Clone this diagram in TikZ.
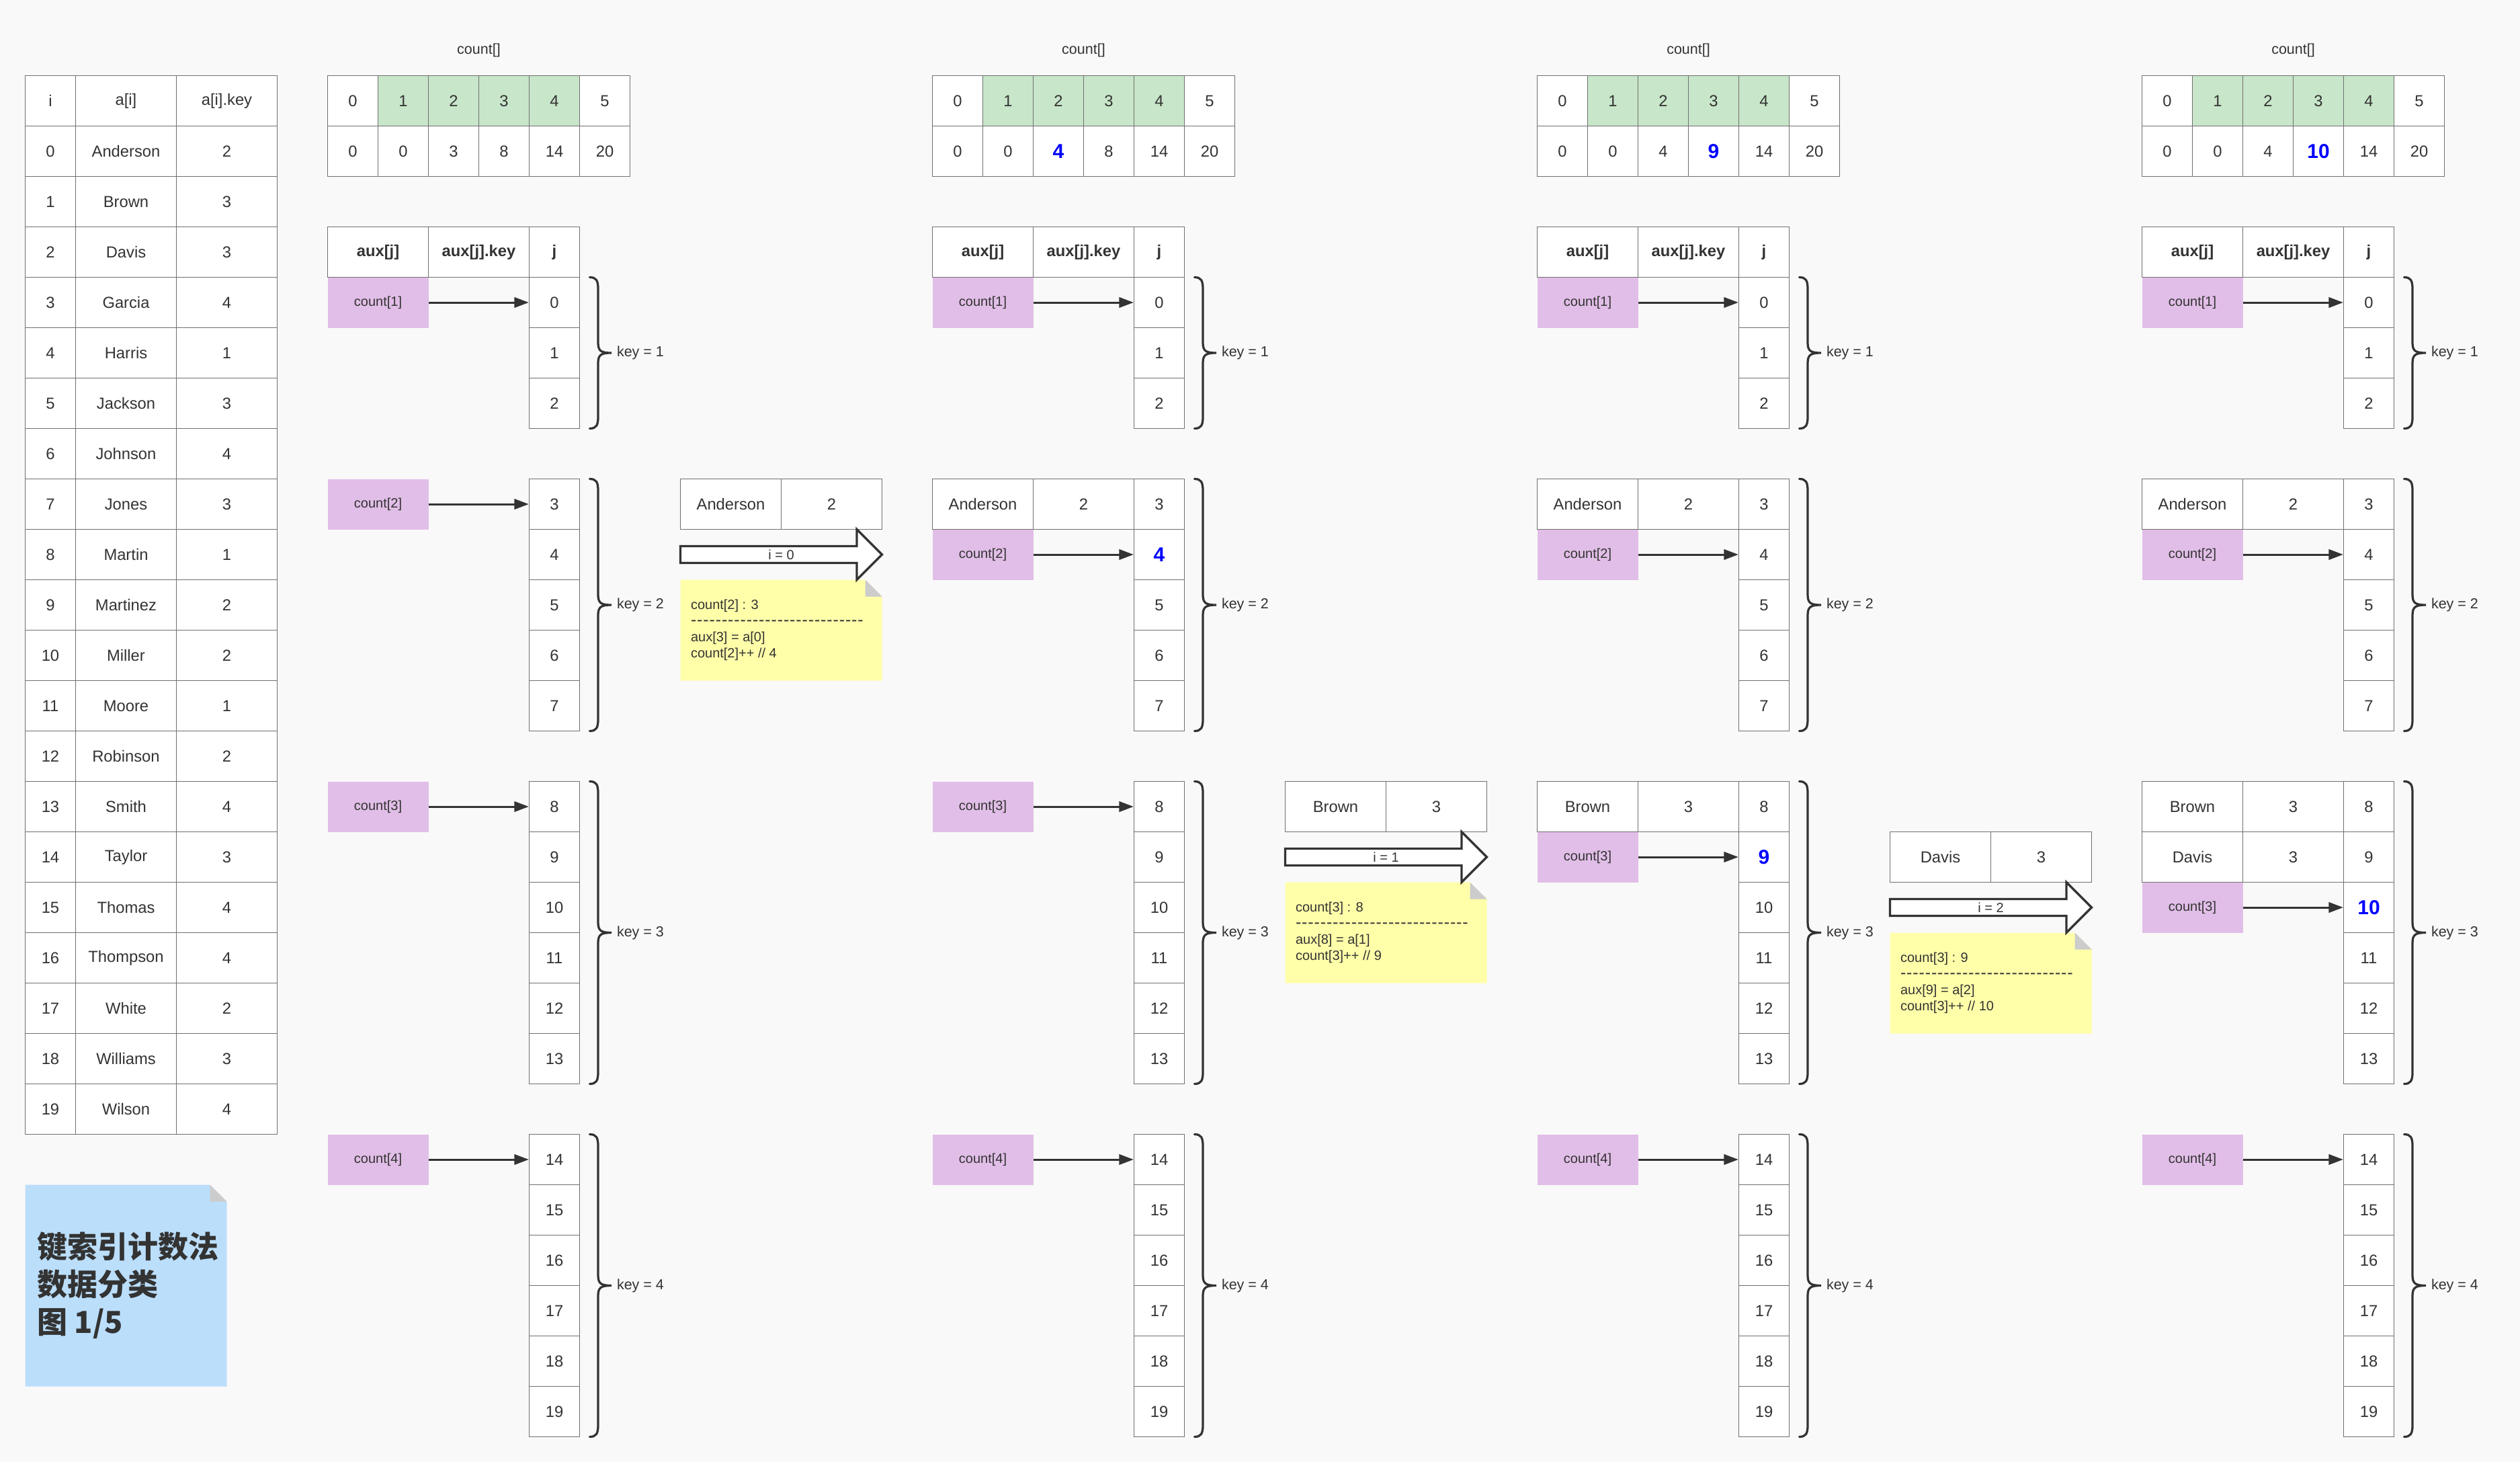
\documentclass[tikz,border=0pt]{standalone}
\usepackage{fontspec}
\setmainfont{Liberation Sans}
\newfontfamily\cjkfont{Noto Sans CJK SC}
\usetikzlibrary{arrows.meta}

\definecolor{bgc}{HTML}{F9F9F9}
\definecolor{txt}{HTML}{333333}
\definecolor{edgec}{HTML}{707070}
\definecolor{darkc}{HTML}{333333}
\definecolor{greenc}{HTML}{C8E6C9}
\definecolor{purc}{HTML}{E1BEE7}
\definecolor{yellowc}{HTML}{FFFFAA}
\definecolor{foldc}{HTML}{CCCCCC}
\definecolor{bluenote}{HTML}{BBDEFB}
\definecolor{hlblue}{HTML}{0000FF}

% highlighted (just updated) value
\newcommand{\hl}[1]{{\fontsize{12}{14}\selectfont\bfseries\color{hlblue}#1}}
% separator line inside the yellow notes
\newcommand{\dashrow}{{\fontsize{10}{9.6}\selectfont\foreach \n in {1,...,28}{-\kern0.35pt}}}

\tikzset{
  every node/.style={text=txt},
  cell/.style={draw=edgec, line width=0.5pt, fill=white, minimum height=30pt,
               inner sep=0pt, font=\fontsize{9.5}{11}\selectfont},
  w30/.style={minimum width=30pt},
  w60/.style={minimum width=60pt},
  hdr/.style={font=\fontsize{9.5}{11}\selectfont\bfseries},
  ptr/.style={fill=purc, draw=none, minimum width=60pt, minimum height=30pt,
              inner sep=0pt, font=\fontsize{8}{10}\selectfont},
  ar/.style={draw=darkc, line width=1.2pt, -{Triangle[length=8.6pt,width=6.1pt]}},
  brc/.style={draw=darkc, line width=1.3pt, line cap=round},
  small/.style={font=\fontsize{8}{9.6}\selectfont, inner sep=0pt},
  lbl/.style={font=\fontsize{8.6}{10}\selectfont, inner sep=0pt},
  barrow/.style={draw=darkc, fill=white, line width=1.3pt, line join=miter},
}

% curly brace right of a j-group, with its key label
% #1 name, #2 right edge of j column, #3 top, #4 bottom, #5 label
\newcommand{\keybrace}[5]{%
  \draw[brc] ({#2+6},#3) .. controls ({#2+10},#3) and ({#2+11},{#3+2}) .. ({#2+11},{#3+7})
    -- ({#2+11},{(#3+#4)/2-6})
    .. controls ({#2+11},{(#3+#4)/2-1}) and ({#2+13},{(#3+#4)/2}) .. ({#2+19},{(#3+#4)/2})
    .. controls ({#2+13},{(#3+#4)/2}) and ({#2+11},{(#3+#4)/2+1}) .. ({#2+11},{(#3+#4)/2+6})
    -- ({#2+11},{#4-7})
    .. controls ({#2+11},{#4-2}) and ({#2+10},#4) .. ({#2+6},#4);
  \node[lbl, anchor=west] (#1) at ({#2+22},{(#3+#4)/2}) {#5};
}

% count[] table, aux header, j column and braces of one stage
% #1 stage id, #2 x offset, #3 values of count[], #4 j shown highlighted
\newcommand{\stagegrid}[4]{%
  \node[font=\fontsize{8.6}{10}\selectfont] (cl#1) at ({#2+285},30) {count[]};
  \foreach \k in {0,...,5} {
    \ifnum\k>0 \ifnum\k<5 \def\cf{greenc}\else\def\cf{white}\fi\else\def\cf{white}\fi
    \node[cell,w30,fill=\cf] (ck#1-\k) at ({#2+210+30*\k},60) {\k};
  }
  \foreach \v [count=\k from 0] in {#3} {
    \node[cell,w30] (cv#1-\k) at ({#2+210+30*\k},90) {\v};
  }
  \node[cell,w60,hdr] (ha#1) at ({#2+225},150) {aux[j]};
  \node[cell,w60,hdr] (hk#1) at ({#2+285},150) {aux[j].key};
  \node[cell,w30,hdr] (hj#1) at ({#2+330},150) {j};
  \foreach \j in {0,...,19} {
    \pgfmathtruncatemacro\g{(\j>2)+(\j>7)+(\j>13)}
    \ifnum\j=#4 \def\t{\hl{\j}}\else\def\t{\j}\fi
    \node[cell,w30] (j#1-\j) at ({#2+330},{180+30*\j+30*\g}) {\t};
  }
  \keybrace{kb#1-1}{#2+345}{165}{255}{key = 1}
  \keybrace{kb#1-2}{#2+345}{285}{435}{key = 2}
  \keybrace{kb#1-3}{#2+345}{465}{645}{key = 3}
  \keybrace{kb#1-4}{#2+345}{675}{855}{key = 4}
}

% record already placed in aux[]: #1 name, #2 x offset, #3 y, #4 a[i], #5 key
\newcommand{\auxrow}[5]{%
  \node[cell,w60] (#1-n) at ({#2+225},#3) {#4};
  \node[cell,w60] (#1-k) at ({#2+285},#3) {#5};
}

% count[k] pointer: #1 name, #2 x offset, #3 y, #4 text, #5 target cell
\newcommand{\ptrto}[5]{%
  \node[ptr] (#1) at ({#2+225},#3) {#4};
  \draw[ar] (#1.east) -- (#5.west);
}

% step between stages: record, block arrow and note
% #1 id, #2 left x, #3 top y, #4 a[i], #5 key, #6 arrow text, #7-#9 note lines
\newcommand{\transit}[9]{%
  \node[cell,w60] (t#1-n) at ({#2+30},{#3+15}) {#4};
  \node[cell,w60] (t#1-k) at ({#2+90},{#3+15}) {#5};
  \fill[yellowc] (#2,{#3+60}) -- ({#2+110},{#3+60}) -- ({#2+120},{#3+70})
    -- ({#2+120},{#3+120}) -- (#2,{#3+120}) -- cycle;
  \fill[foldc] ({#2+110},{#3+60}) -- ({#2+110},{#3+70}) -- ({#2+120},{#3+70}) -- cycle;
  \node[small, anchor=west, align=left] (t#1-note) at ({#2+6},{#3+90}) {#7\\\dashrow\\#8\\#9};
  \draw[barrow] (#2,{#3+40}) -- ({#2+105},{#3+40}) -- ({#2+105},{#3+30})
    -- ({#2+120},{#3+45}) -- ({#2+105},{#3+60}) -- ({#2+105},{#3+50})
    -- (#2,{#3+50}) -- cycle;
  \node[small] (t#1-i) at ({#2+60},{#3+45}) {#6};
}

\begin{document}
\begin{tikzpicture}[x=1pt,y=-1pt]
\useasboundingbox (0,0) rectangle (1500,870);
\fill[bgc] (0,0) rectangle (1500,870);

% input array a[]
\node[cell,w30] (Lh-i) at (30,60) {i};
\node[cell,w60] (Lh-a) at (75,60) {a[i]};
\node[cell,w60] (Lh-k) at (135,60) {a[i].key};
\foreach \nm/\ky [count=\i from 0] in {Anderson/2,Brown/3,Davis/3,Garcia/4,Harris/1,
    Jackson/3,Johnson/4,Jones/3,Martin/1,Martinez/2,Miller/2,Moore/1,Robinson/2,
    Smith/4,Taylor/3,Thomas/4,Thompson/4,White/2,Williams/3,Wilson/4} {
  \node[cell,w30] (L\i-i) at (30,{90+30*\i}) {\i};
  \node[cell,w60] (L\i-a) at (75,{90+30*\i}) {\nm};
  \node[cell,w60] (L\i-k) at (135,{90+30*\i}) {\ky};
}

% title note
\fill[bluenote] (15,705) -- (125,705) -- (135,715) -- (135,825) -- (15,825) -- cycle;
\fill[foldc] (125,705) -- (125,715) -- (135,715) -- cycle;
\node[anchor=west, align=left, inner sep=0pt,
      font=\cjkfont\bfseries\fontsize{18}{22.4}\selectfont] (title) at (22,765)
  {键索引计数法\\数据分类\\图 1/5};

% stage 1
\stagegrid{1}{0}{0,0,3,8,14,20}{-1}
\ptrto{p1-1}{0}{180}{count[1]}{j1-0}
\ptrto{p1-2}{0}{300}{count[2]}{j1-3}
\ptrto{p1-3}{0}{480}{count[3]}{j1-8}
\ptrto{p1-4}{0}{690}{count[4]}{j1-14}

\transit{1}{405}{285}{Anderson}{2}{i = 0}{count[2] : 3}{aux[3] = a[0]}{count[2]++ // 4}

% stage 2
\stagegrid{2}{360}{0,0,\hl{4},8,14,20}{4}
\ptrto{p2-1}{360}{180}{count[1]}{j2-0}
\auxrow{a2-0}{360}{300}{Anderson}{2}
\ptrto{p2-2}{360}{330}{count[2]}{j2-4}
\ptrto{p2-3}{360}{480}{count[3]}{j2-8}
\ptrto{p2-4}{360}{690}{count[4]}{j2-14}

\transit{2}{765}{465}{Brown}{3}{i = 1}{count[3] : 8}{aux[8] = a[1]}{count[3]++ // 9}

% stage 3
\stagegrid{3}{720}{0,0,4,\hl{9},14,20}{9}
\ptrto{p3-1}{720}{180}{count[1]}{j3-0}
\auxrow{a3-0}{720}{300}{Anderson}{2}
\ptrto{p3-2}{720}{330}{count[2]}{j3-4}
\auxrow{a3-1}{720}{480}{Brown}{3}
\ptrto{p3-3}{720}{510}{count[3]}{j3-9}
\ptrto{p3-4}{720}{690}{count[4]}{j3-14}

\transit{3}{1125}{495}{Davis}{3}{i = 2}{count[3] : 9}{aux[9] = a[2]}{count[3]++ // 10}

% stage 4
\stagegrid{4}{1080}{0,0,4,\hl{10},14,20}{10}
\ptrto{p4-1}{1080}{180}{count[1]}{j4-0}
\auxrow{a4-0}{1080}{300}{Anderson}{2}
\ptrto{p4-2}{1080}{330}{count[2]}{j4-4}
\auxrow{a4-1}{1080}{480}{Brown}{3}
\auxrow{a4-2}{1080}{510}{Davis}{3}
\ptrto{p4-3}{1080}{540}{count[3]}{j4-10}
\ptrto{p4-4}{1080}{690}{count[4]}{j4-14}
\end{tikzpicture}
\end{document}
